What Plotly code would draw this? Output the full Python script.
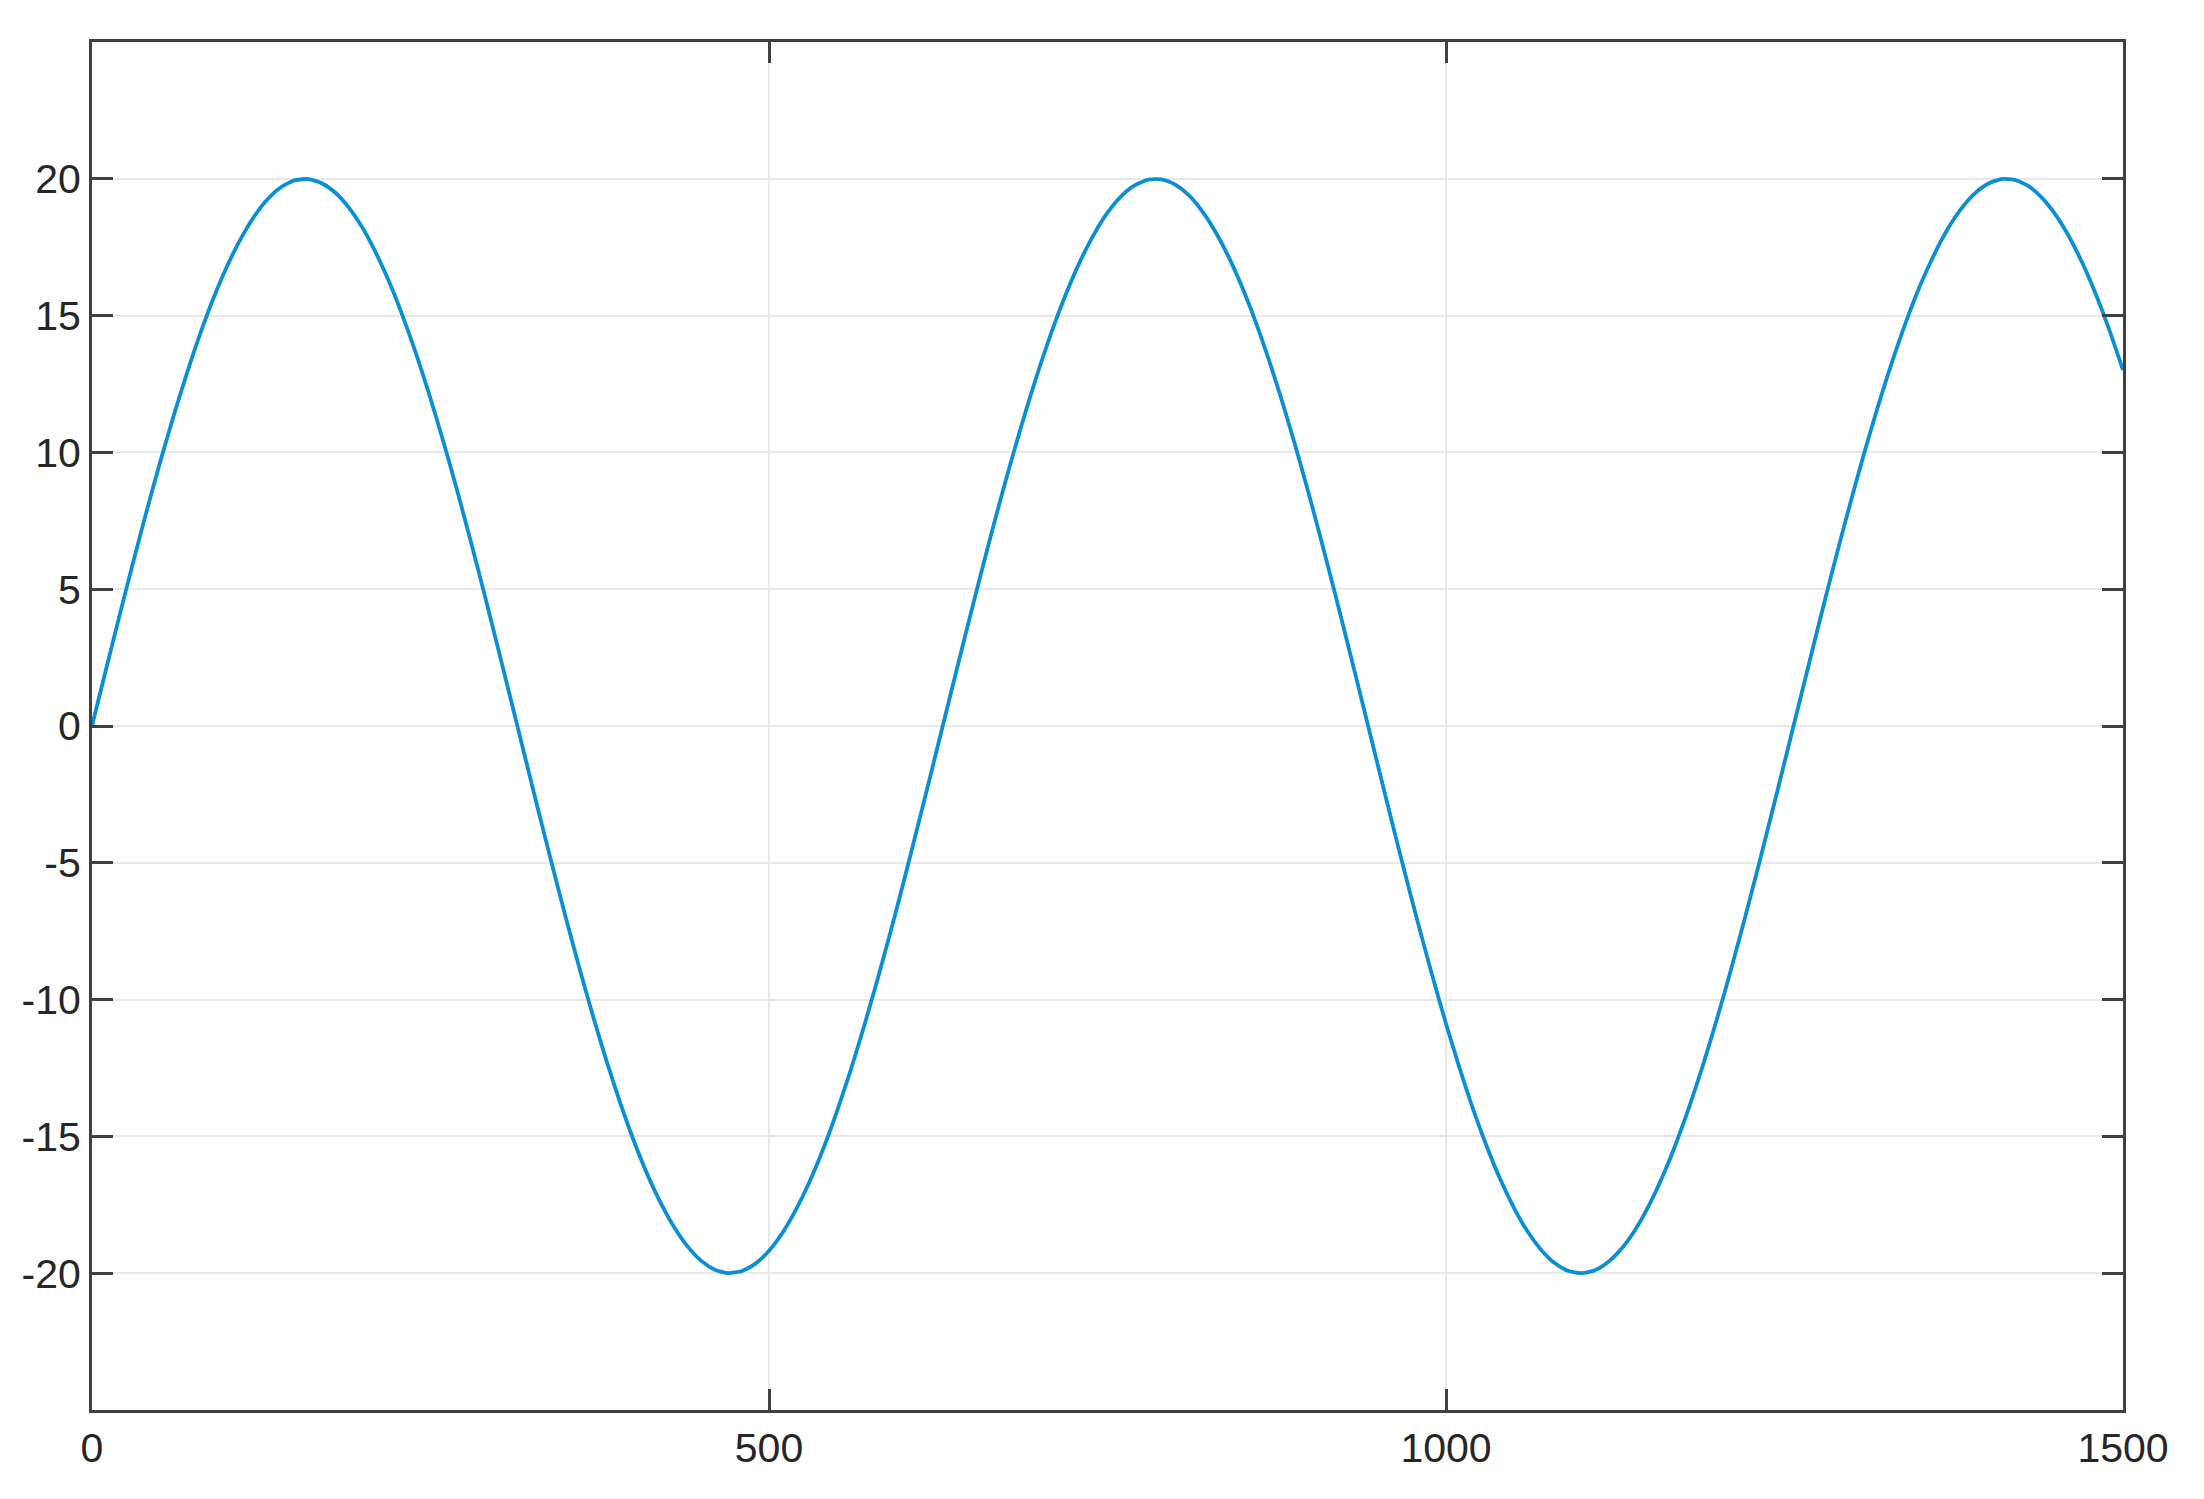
import plotly.graph_objects as go

# Sample positions along x (every 10 units) and the values
x_values = list(range(0, 1501, 10))
y_values = [
    0.00, 2.00, 3.97, 5.91, 7.79, 9.59, 11.29, 12.88, 14.35, 15.67,
    16.83, 17.82, 18.64, 19.27, 19.71, 19.95, 19.99, 19.83, 19.48, 18.93,
    18.19, 17.26, 16.17, 14.91, 13.51, 11.97, 10.31, 8.55, 6.70, 4.79,
    2.82, 0.83, -1.17, -3.16, -5.11, -7.02, -8.85, -10.60, -12.24, -13.76,
    -15.14, -16.37, -17.43, -18.32, -19.03, -19.55, -19.87, -20.00, -19.92, -19.65,
    -19.18, -18.52, -17.67, -16.65, -15.46, -14.11, -12.63, -11.01, -9.29, -7.48,
    -5.59, -3.64, -1.66, 0.34, 2.33, 4.30, 6.23, 8.10, 9.88, 11.57,
    13.14, 14.58, 15.87, 17.01, 17.97, 18.76, 19.36, 19.76, 19.97, 19.98,
    19.79, 19.40, 18.81, 18.04, 17.09, 15.97, 14.69, 13.26, 11.70, 10.02,
    8.24, 6.38, 4.46, 2.49, 0.50, -1.50, -3.49, -5.44, -7.33, -9.15,
    -10.88, -12.50, -14.00, -15.35, -16.56, -17.59, -18.46, -19.13, -19.62, -19.91,
    -20.00, -19.89, -19.58, -19.08, -18.39, -17.51, -16.46, -15.24, -13.87, -12.36,
    -10.73, -8.99, -7.16, -5.26, -3.31, -1.33, 0.67, 2.66, 4.63, 6.55,
    8.40, 10.17, 11.84, 13.39, 14.81, 16.08, 17.18, 18.12, 18.87, 19.44,
    19.81, 19.99, 19.96, 19.74, 19.31, 18.70, 17.90, 16.92, 15.77, 14.46,
    13.01,
]

x_ticks = [0, 500, 1000, 1500]
y_ticks = [-20, -15, -10, -5, 0, 5, 10, 15, 20]

fig = go.Figure()
fig.add_trace(go.Scatter(
    x=x_values, y=y_values, mode="lines",
    line=dict(color="#0A8FD4", width=3.8, shape="spline", smoothing=0.6),
    showlegend=False,
))

axis_common = dict(
    showline=True, linecolor="#404040", linewidth=3, mirror="ticks",
    ticks="inside", ticklen=21, tickwidth=3, tickcolor="#404040",
    showgrid=True, gridcolor="#E8E8E8", gridwidth=2,
    zeroline=False,
    tickfont=dict(family="Liberation Sans, Arial, sans-serif", size=41, color="#262626"),
)

fig.update_xaxes(range=[0, 1500], tickvals=x_ticks, ticktext=[str(v) for v in x_ticks], **axis_common)
fig.update_yaxes(range=[-25, 25], tickvals=y_ticks, ticktext=[str(v) for v in y_ticks], **axis_common)

fig.update_layout(
    width=2188, height=1483,
    margin=dict(l=84, r=73, t=34, b=81),
    paper_bgcolor="white", plot_bgcolor="white",
)

fig.write_html("out.html")
